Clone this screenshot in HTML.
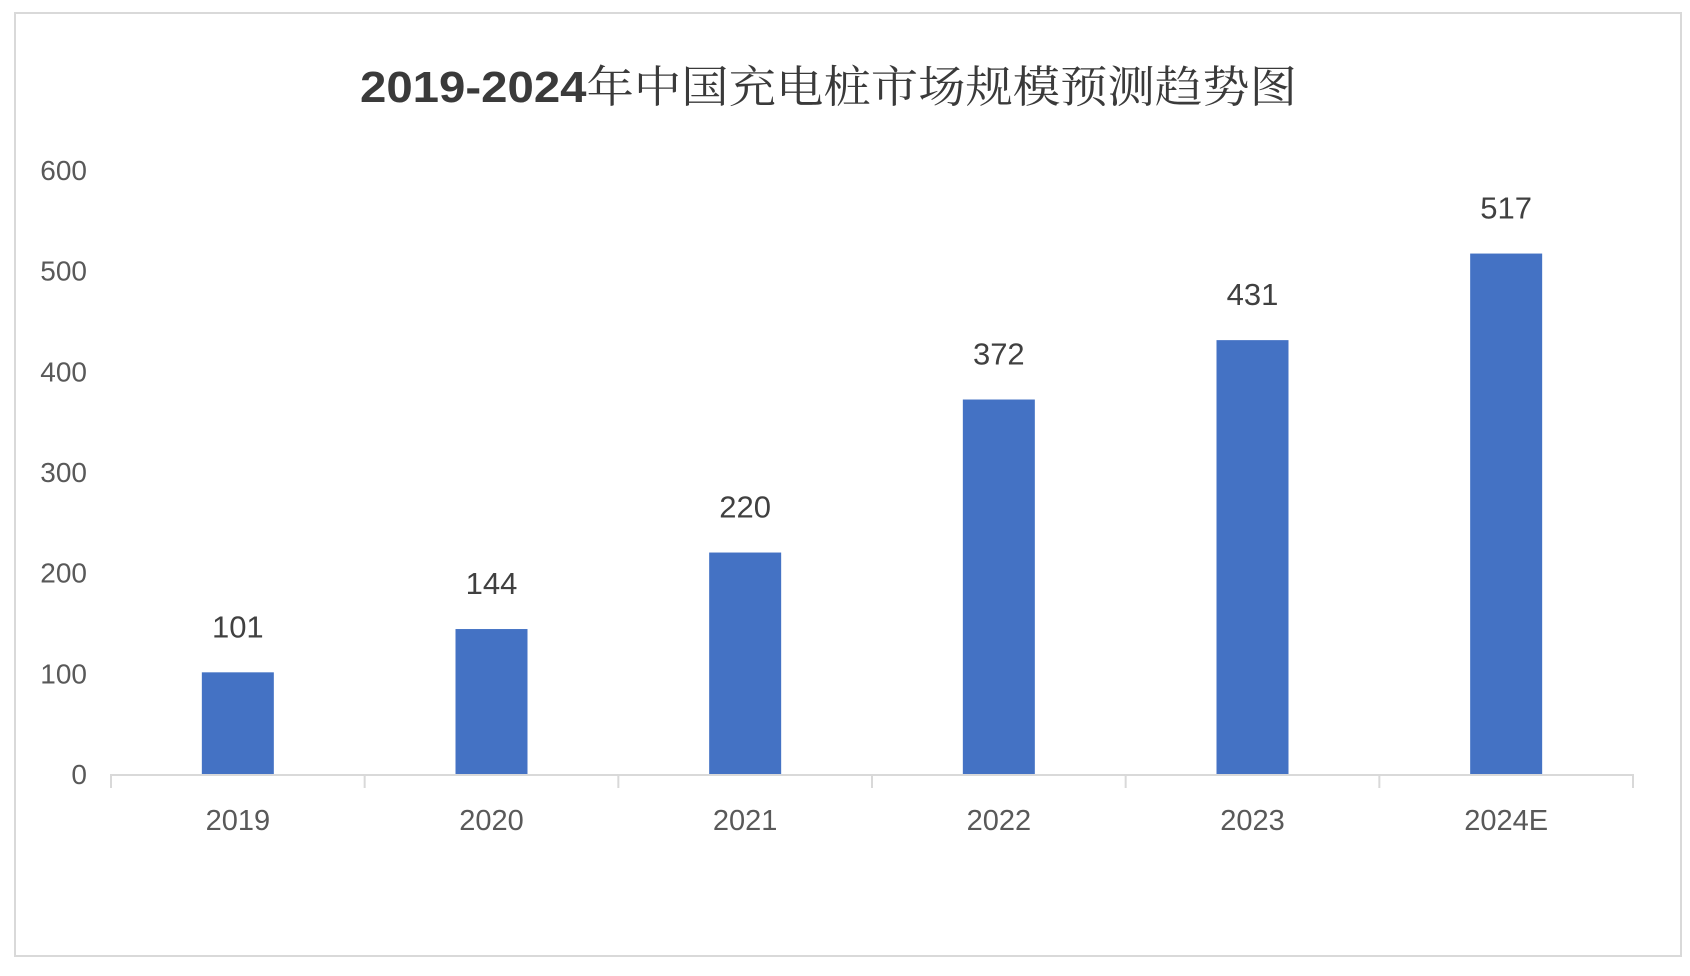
<!DOCTYPE html>
<html><head><meta charset="utf-8"><style>
html,body{margin:0;padding:0;background:#fff;}
svg{display:block;font-family:"Liberation Sans","Noto Sans CJK SC",sans-serif;}
</style></head><body>
<svg id="chart" width="1690" height="976" viewBox="0 0 1690 976" xmlns="http://www.w3.org/2000/svg">
<rect x="15" y="13" width="1666" height="943" fill="#fff" stroke="#d9d9d9" stroke-width="2"/>
<text x="360" y="102" font-size="44" fill="#3a3a3a" textLength="937" lengthAdjust="spacingAndGlyphs"><tspan font-weight="bold">2019-2024</tspan><tspan font-family="'Noto Serif CJK SC','Noto Sans CJK SC',serif">年中国充电桩市场规模预测趋势图</tspan></text>
<g id="yticks"></g><g id="bars"></g><g id="xaxis"></g>
</svg>
<script>
const categories=["2019","2020","2021","2022","2023","2024E"];
const values=[101,144,220,372,431,517];
const yTicks=[0,100,200,300,400,500,600];
const NS="http://www.w3.org/2000/svg";
const x0=111,x1=1633,yBase=774,yTop=170,yMax=600;
const band=(x1-x0)/categories.length;
function xC(i){return x0+band*(i+0.5);}
function y(v){return yBase-(v/yMax)*(yBase-yTop);}
function mk(t,a,p){const e=document.createElementNS(NS,t);for(const k in a)e.setAttribute(k,a[k]);p.appendChild(e);return e;}
const gy=document.getElementById('yticks'),gb=document.getElementById('bars'),gx=document.getElementById('xaxis');
yTicks.forEach(v=>{
 const t=mk('text',{x:87,y:y(v)+10,'text-anchor':'end','font-size':28,fill:'#595959'},gy);
 
 
 t.textContent=v;
});
categories.forEach((c,i)=>{
 const w=72;
 const r=mk('rect',{x:xC(i)-w/2,y:y(values[i]),width:w,height:yBase-y(values[i]),fill:'#4472c4'},gb);
 
 
 const l=mk('text',{x:xC(i),y:y(values[i])-35,'text-anchor':'middle','font-size':31,fill:'#404040'},gb);
 
 
 l.textContent=values[i];
 const xl=mk('text',{x:xC(i),y:yBase+56,'text-anchor':'middle','font-size':29,fill:'#595959'},gx);
 
 
 xl.textContent=c;
});
const ax=mk('line',{x1:x0,y1:yBase+1,x2:x1,y2:yBase+1,stroke:'#d9d9d9','stroke-width':2},gx);


for(let i=0;i<=categories.length;i++){
 const tk=mk('line',{x1:x0+band*i,y1:yBase,x2:x0+band*i,y2:yBase+14,stroke:'#d9d9d9','stroke-width':2},gx);
 
 
}
</script>
</body></html>
